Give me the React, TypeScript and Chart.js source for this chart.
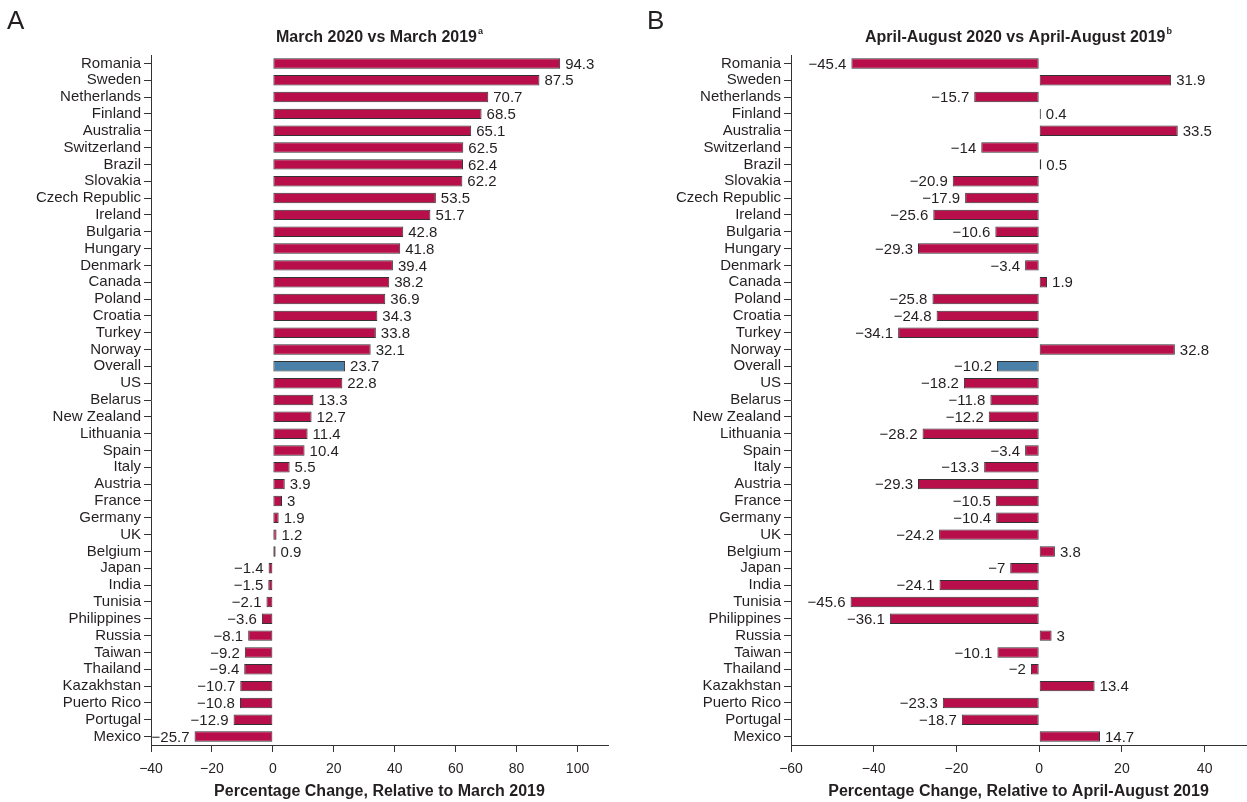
import React, { useEffect, useRef } from "react";
import { Chart, registerables } from "chart.js";

Chart.register(...registerables);

const countries = [
  "Romania", "Sweden", "Netherlands", "Finland", "Australia", "Switzerland", "Brazil",
  "Slovakia", "Czech Republic", "Ireland", "Bulgaria", "Hungary", "Denmark", "Canada",
  "Poland", "Croatia", "Turkey", "Norway", "Overall", "US", "Belarus", "New Zealand",
  "Lithuania", "Spain", "Italy", "Austria", "France", "Germany", "UK", "Belgium", "Japan",
  "India", "Tunisia", "Philippines", "Russia", "Taiwan", "Thailand", "Kazakhstan",
  "Puerto Rico", "Portugal", "Mexico",
];

const marchValues = [
  94.3, 87.5, 70.7, 68.5, 65.1, 62.5, 62.4, 62.2, 53.5, 51.7, 42.8, 41.8, 39.4, 38.2,
  36.9, 34.3, 33.8, 32.1, 23.7, 22.8, 13.3, 12.7, 11.4, 10.4, 5.5, 3.9, 3, 1.9, 1.2, 0.9,
  -1.4, -1.5, -2.1, -3.6, -8.1, -9.2, -9.4, -10.7, -10.8, -12.9, -25.7,
];

const aprAugValues = [
  -45.4, 31.9, -15.7, 0.4, 33.5, -14, 0.5, -20.9, -17.9, -25.6, -10.6, -29.3, -3.4, 1.9,
  -25.8, -24.8, -34.1, 32.8, -10.2, -18.2, -11.8, -12.2, -28.2, -3.4, -13.3, -29.3, -10.5,
  -10.4, -24.2, 3.8, -7, -24.1, -45.6, -36.1, 3, -10.1, -2, 13.4, -23.3, -18.7, 14.7,
];

const panelA = {
  letter: "A",
  title: "March 2020 vs March 2019",
  sup: "a",
  axisTitle: "Percentage Change, Relative to March 2019",
  min: -40,
  max: 110,
};
const panelB = {
  letter: "B",
  title: "April-August 2020 vs April-August 2019",
  sup: "b",
  axisTitle: "Percentage Change, Relative to April-August 2019",
  min: -60,
  max: 50,
};

const FONT = "'Liberation Sans', Arial, Helvetica, sans-serif";
const TEXT = "#231f20";
const BAR = "#b80f4a";
const OVERALL = "#4a7fa8";
const EDGE = "#333333";

const fmt = (v: number) => (v < 0 ? "\u2212" + Math.abs(v) : String(v));

function makeChart(
  canvas: HTMLCanvasElement,
  panel: typeof panelA,
  values: number[],
  yAxisWidth: number,
  padRight: number
) {
  const labelPlugin = {
    id: "valueLabels",
    afterDatasetsDraw(chart: any) {
      const ctx = chart.ctx;
      const meta = chart.getDatasetMeta(0);
      ctx.save();
      ctx.font = `15px ${FONT}`;
      ctx.fillStyle = TEXT;
      ctx.textBaseline = "middle";
      meta.data.forEach((el: any, i: number) => {
        const v = values[i];
        const x = el.x;
        const y = el.y;
        if (v >= 0) {
          ctx.textAlign = "left";
          ctx.fillText(fmt(v), x + 5, y + 1);
        } else {
          ctx.textAlign = "right";
          ctx.fillText(fmt(v), x - 5, y + 1);
        }
      });
      ctx.restore();
    },
    afterDraw(chart: any) {
      const ctx = chart.ctx;
      const area = chart.chartArea;
      ctx.save();
      ctx.fillStyle = TEXT;
      // panel letter
      ctx.font = `26px ${FONT}`;
      ctx.textAlign = "left";
      ctx.textBaseline = "middle";
      ctx.fillText(panel.letter, 7, 22);
      // title with superscript
      ctx.font = `bold 16px ${FONT}`;
      const mainW = ctx.measureText(panel.title).width;
      ctx.font = `bold 9px ${FONT}`;
      const supW = ctx.measureText(panel.sup).width;
      const cx = (area.left + area.right) / 2;
      const startX = cx - (mainW + supW + 1) / 2;
      ctx.font = `bold 16px ${FONT}`;
      ctx.textAlign = "left";
      ctx.fillText(panel.title, startX, 38);
      ctx.font = `bold 9px ${FONT}`;
      ctx.fillText(panel.sup, startX + mainW + 1, 32);
      ctx.restore();
    },
  };

  return new Chart(canvas, {
    type: "bar",
    data: {
      labels: countries,
      datasets: [
        {
          data: values,
          backgroundColor: countries.map((c) => (c === "Overall" ? OVERALL : BAR)),
          borderColor: EDGE,
          borderWidth: 1,
          borderSkipped: false,
          barPercentage: 0.62,
          categoryPercentage: 1,
        },
      ],
    },
    options: {
      indexAxis: "y",
      responsive: false,
      animation: false,
      devicePixelRatio: 1,
      layout: { padding: { top: 55, right: padRight, left: 0, bottom: 0 } },
      plugins: {
        legend: { display: false },
        tooltip: { enabled: false },
        title: { display: false },
      },
      scales: {
        x: {
          type: "linear",
          min: panel.min,
          max: panel.max,
          ticks: {
            stepSize: 20,
            includeBounds: false,
            color: TEXT,
            font: { family: FONT, size: 14 },
            padding: 9,
            maxRotation: 0,
            callback: (v: any) => fmt(Number(v)),
          },
          grid: {
            display: true,
            drawOnChartArea: false,
            drawTicks: true,
            tickLength: 7,
            color: EDGE,
          },
          border: { display: true, color: EDGE, width: 1 },
          title: {
            display: true,
            text: panel.axisTitle,
            color: TEXT,
            font: { family: FONT, size: 16, weight: "bold" },
            padding: { top: 2, bottom: 1 },
          },
          afterFit: (scale: any) => {
            scale.height = 57;
          },
        },
        y: {
          type: "category",
          offset: true,
          ticks: {
            color: TEXT,
            font: { family: FONT, size: 15 },
            padding: 3,
            autoSkip: false,
          },
          grid: {
            display: true,
            drawOnChartArea: false,
            drawTicks: true,
            tickLength: 7,
            color: EDGE,
            offset: false,
          },
          border: { display: true, color: EDGE, width: 1 },
          afterFit: (scale: any) => {
            scale.width = yAxisWidth;
          },
        },
      },
    } as any,
    plugins: [labelPlugin],
  });
}

function Panel(props: {
  left: number;
  width: number;
  panel: typeof panelA;
  values: number[];
  yAxisWidth: number;
  padRight: number;
}) {
  const ref = useRef<HTMLCanvasElement | null>(null);
  useEffect(() => {
    if (!ref.current) return;
    const chart = makeChart(ref.current, props.panel, props.values, props.yAxisWidth, props.padRight);
    return () => chart.destroy();
  }, []);
  return (
    <canvas
      ref={ref}
      width={props.width}
      height={802}
      style={{ position: "absolute", left: props.left, top: 0, width: props.width, height: 802 }}
    />
  );
}

export default function App() {
  return (
    <div style={{ position: "absolute", left: 0, top: 0, width: 1247, height: 802, background: "#fff" }}>
      <Panel left={0} width={620} panel={panelA} values={marchValues} yAxisWidth={151} padRight={12} />
      <Panel left={640} width={607} panel={panelB} values={aprAugValues} yAxisWidth={151} padRight={1} />
    </div>
  );
}
